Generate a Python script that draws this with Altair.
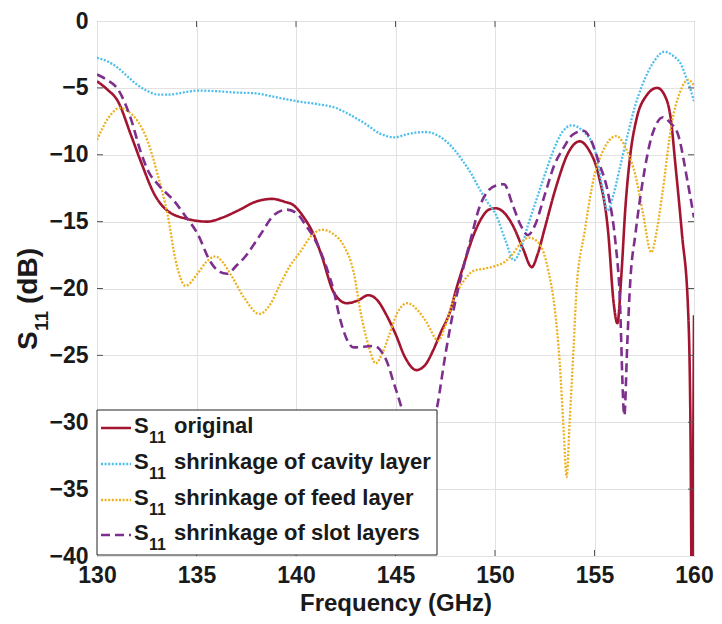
import altair as alt
import pandas as pd

# ---------------- data ----------------
freq_original = [130, 130.5, 131.05, 131.7, 132.2, 132.9, 133.55, 134.55, 135.55, 136.3, 137.05, 138.0,
                 138.8, 139.4, 139.9, 140.4, 140.9, 141.3, 141.9, 142.55, 143.1, 143.65, 144.1, 144.55,
                 145.0, 145.5, 146.05, 146.5, 146.9, 147.3, 147.7, 148.1, 148.5, 148.9, 149.3, 149.7,
                 150.05, 150.5, 150.9, 151.4, 151.85, 152.15, 152.5, 153.05, 153.7, 154.25, 154.7, 155.2,
                 155.7, 155.95, 156.15, 156.35, 156.55, 156.8, 157.1, 157.6, 158.15, 158.6, 158.85, 159.05,
                 159.4, 159.7, 159.82, 159.9, 159.97, 160]
s11_original = [-4.5, -5.1, -6.0, -8.5, -10.5, -13.0, -14.2, -14.8, -15.0, -14.7, -14.2, -13.5,
                -13.3, -13.5, -13.8, -14.7, -16.0, -17.6, -20.3, -21.1, -20.9, -20.5, -20.9, -22.0,
                -23.4, -25.2, -26.1, -25.7, -24.6, -23.2, -21.9, -19.8, -17.9, -16.1, -14.8, -14.1,
                -14.0, -14.4, -15.3, -17.0, -18.4, -17.4, -15.5, -12.5, -9.8, -9.0, -9.6, -11.5,
                -16.0, -20.9, -22.6, -19.0, -14.0, -10.0, -7.4, -5.6, -5.0, -5.8, -7.5, -10.5,
                -16.0, -21.5, -30.0, -45.0, -30.0, -22.0]

freq_cavity = [130, 130.5, 131.05, 131.5, 132.05, 132.5, 133.05, 133.6, 134.3, 135.05, 136.0, 137.0,
               137.9, 139.0, 140.05, 141.0, 142.0, 142.7, 143.4, 144.2, 144.95, 145.5, 146.0, 146.55,
               147.05, 147.55, 148.0, 148.4, 148.8, 149.2, 149.6, 150.05, 150.55, 150.95, 151.3, 151.65,
               152.05, 152.5, 152.9, 153.3, 153.85, 154.4, 155.05, 155.4, 155.65, 155.95, 156.3, 156.7,
               157.05, 157.4, 158.0, 158.5, 158.95, 159.4, 159.55, 159.8, 160]
s11_cavity = [-2.75, -3.0, -3.5, -4.1, -4.8, -5.2, -5.5, -5.5, -5.35, -5.2, -5.25, -5.35,
              -5.4, -5.7, -6.0, -6.2, -6.5, -7.0, -7.6, -8.4, -8.7, -8.5, -8.35, -8.3,
              -8.5, -9.0, -9.7, -10.5, -11.4, -12.5, -13.5, -14.5, -16.5, -17.9, -17.0, -15.3,
              -13.5, -11.5, -9.8, -8.5, -7.8, -8.2, -9.8, -12.5, -14.2, -13.0, -10.8, -8.3,
              -6.3, -4.8, -3.0, -2.3, -2.6, -3.4, -4.0, -5.0, -6.0]

freq_feed = [130, 130.55, 131.15, 131.6, 132.05, 132.55, 133.05, 133.55, 133.95, 134.45, 135.05, 135.5,
             135.95, 136.3, 136.7, 137.4, 138.15, 138.7, 139.2, 139.7, 140.2, 140.75, 141.3, 141.85,
             142.4, 142.9, 143.25, 143.65, 144.0, 144.35, 144.7, 145.1, 145.6, 146.1, 146.55, 147.15,
             147.5, 147.9, 148.4, 148.9, 149.5, 150.05, 150.5, 150.9, 151.3, 151.7, 152.2, 152.7,
             153.0, 153.25, 153.45, 153.6, 153.75, 153.95, 154.1, 154.5, 155.0, 155.4, 155.75, 156.1,
             156.6, 157.05, 157.45, 157.85, 158.15, 158.4, 158.9, 159.3, 159.7, 160]
s11_feed = [-8.9, -7.3, -6.5, -6.8, -7.5, -9.0, -11.5, -14.5, -17.9, -19.8, -18.9, -18.0,
            -17.6, -18.0, -18.9, -20.7, -21.9, -21.2, -19.7, -18.3, -17.3, -16.1, -15.6, -15.9,
            -16.8, -18.8, -21.8, -24.3, -25.6, -24.8, -23.4, -21.8, -21.1, -21.6, -22.5, -23.9,
            -22.8, -20.9, -19.5, -18.7, -18.5, -18.3, -18.0, -17.4, -16.6, -16.2, -16.6, -18.8,
            -21.5, -25.5, -30.6, -34.1, -30.0, -24.4, -20.0, -15.8, -11.5, -9.8, -8.9, -8.6,
            -9.6, -11.5, -14.5, -17.3, -15.5, -13.0, -7.5, -5.3, -4.4, -4.8]

freq_slot = [130, 130.5, 131.05, 131.7, 132.2, 132.6, 133.05, 133.9, 134.4, 135.05, 135.7, 136.1,
             136.55, 137.0, 137.4, 138.2, 138.9, 139.55, 140.05, 140.5, 140.9, 141.55, 141.9, 142.2,
             142.9, 143.9, 144.55, 144.9, 145.2, 145.5, 145.8, 146.3, 146.7, 147.1, 147.5, 148.0,
             148.4, 148.8, 149.2, 149.6, 150.05, 150.45, 150.9, 151.3, 151.65, 152.0, 152.5, 153.0,
             153.4, 153.9, 154.45, 154.85, 155.2, 155.7, 156.05, 156.25, 156.5, 156.65, 156.8, 157.05,
             157.4, 157.9, 158.45, 158.8, 159.2, 159.7, 160]
s11_slot = [-4.0, -4.4, -5.1, -7.3, -9.8, -11.3, -12.2, -13.5, -14.5, -15.9, -18.0, -18.7,
            -18.9, -18.3, -17.7, -16.0, -14.5, -14.1, -14.4, -15.3, -16.2, -18.5, -20.2, -22.2,
            -24.4, -24.3, -25.4, -27.0, -28.4, -30.0, -32.0, -33.5, -31.5, -28.8, -25.0, -21.0,
            -18.5, -16.2, -14.0, -12.8, -12.3, -12.2, -13.8, -15.3, -16.0, -15.3, -13.0, -10.7,
            -9.6, -8.5, -8.2, -9.0, -10.5, -13.0, -16.5, -20.0, -29.5, -24.0, -19.4, -16.0,
            -12.2, -8.5, -7.2, -7.6, -8.5, -12.2, -14.7]

series_keys = ["original", "cavity", "feed", "slot"]
legend_labels = ["original", "shrinkage of cavity layer", "shrinkage of feed layer", "shrinkage of slot layers"]
series_freq = [freq_original, freq_cavity, freq_feed, freq_slot]
series_s11 = [s11_original, s11_cavity, s11_feed, s11_slot]

x_ticks = [130, 135, 140, 145, 150, 155, 160]
y_ticks = [0, -5, -10, -15, -20, -25, -30, -35, -40]

# ---------------- styles ----------------
colors = ["#A2142F", "#4DBEEE", "#EDB120", "#7E2F8E"]
dashes = [[1, 0], [2, 1.6], [2, 1.6], [9, 5]]
widths = [2.6, 2.3, 2.3, 2.6]
FONT = "Liberation Sans"
TXT = "#1a1a1a"

PAD_L, PAD_T, PAD_R, PAD_B = 89, 13, 20, 60
W, H = 597, 535
TOP = 8 + PAD_T   # page y of plot top edge
LEFT = 8 + PAD_L  # page x of plot left edge

X = alt.X("f:Q", scale=alt.Scale(domain=[130, 160], nice=False, zero=False),
          axis=alt.Axis(values=x_ticks, title="Frequency (GHz)", grid=True, ticks=False, domain=False,
                        labelPadding=8, titleY=54, titleBaseline="alphabetic", titleFontSize=24,
                        labelFlush=False, labelOverlap=False))
Y = alt.Y("db:Q", scale=alt.Scale(domain=[-40, 0], nice=False, zero=False),
          axis=alt.Axis(values=y_ticks, title=None, grid=True, ticks=False, domain=False,
                        labelPadding=9, labelFlush=False, labelOverlap=False))

layers = []

# curves
for key, fr, sv, c, d, w in zip(series_keys, series_freq, series_s11, colors, dashes, widths):
    df = pd.DataFrame({"f": fr, "db": sv, "series": key})
    layers.append(
        alt.Chart(df).mark_line(color=c, strokeDash=d, strokeWidth=w, interpolate="monotone", clip=True)
        .encode(x=X, y=Y)
    )

# inward ticks (MATLAB style) on all four sides
xt = pd.DataFrame({"f": x_ticks[1:-1]})
yt = pd.DataFrame({"db": y_ticks[1:-1]})
tick_col = "#555555"
layers.append(alt.Chart(xt).mark_rule(color=tick_col, strokeWidth=1).encode(x=X, y=alt.value(0), y2=alt.value(6)))
layers.append(alt.Chart(xt).mark_rule(color=tick_col, strokeWidth=1).encode(x=X, y=alt.value(H - 6), y2=alt.value(H)))
layers.append(alt.Chart(yt).mark_rule(color=tick_col, strokeWidth=1).encode(y=Y, x=alt.value(0), x2=alt.value(6)))
layers.append(alt.Chart(yt).mark_rule(color=tick_col, strokeWidth=1).encode(y=Y, x=alt.value(W - 6), x2=alt.value(W)))

one = pd.DataFrame({"k": [0]})

# legend box
layers.append(
    alt.Chart(one).mark_rect(fill="white", stroke="#222222", strokeWidth=1)
    .encode(x=alt.value(0), x2=alt.value(340), y=alt.value(410 - TOP), y2=alt.value(555 - TOP))
)

row_base = [433 - TOP, 469 - TOP, 505 - TOP, 540 - TOP]
for lbl, c, d, w, yb in zip(legend_labels, colors, dashes, widths, row_base):
    layers.append(
        alt.Chart(one).mark_rule(color=c, strokeDash=d, strokeWidth=w)
        .encode(x=alt.value(4), x2=alt.value(34), y=alt.value(yb - 5))
    )
    layers.append(
        alt.Chart(one).mark_text(text="S", font=FONT, fontSize=22, fontWeight="bold", color=TXT,
                                 align="left", baseline="alphabetic")
        .encode(x=alt.value(37), y=alt.value(yb))
    )
    layers.append(
        alt.Chart(one).mark_text(text="11", font=FONT, fontSize=16, fontWeight="bold", color=TXT,
                                 align="left", baseline="alphabetic")
        .encode(x=alt.value(52), y=alt.value(yb + 10))
    )
    layers.append(
        alt.Chart(one).mark_text(text=lbl, font=FONT, fontSize=22, fontWeight="bold", color=TXT,
                                 align="left", baseline="alphabetic")
        .encode(x=alt.value(77), y=alt.value(yb))
    )

# y-axis title "S11 (dB)" with subscript, rotated
layers.append(
    alt.Chart(one).mark_text(text="S", font=FONT, fontSize=28, fontWeight="bold", color=TXT,
                             align="left", baseline="alphabetic", angle=270)
    .encode(x=alt.value(37 - LEFT), y=alt.value(350 - TOP))
)
layers.append(
    alt.Chart(one).mark_text(text="11", font=FONT, fontSize=19, fontWeight="bold", color=TXT,
                             align="left", baseline="alphabetic", angle=270)
    .encode(x=alt.value(48 - LEFT), y=alt.value(331 - TOP))
)
layers.append(
    alt.Chart(one).mark_text(text="(dB)", font=FONT, fontSize=28, fontWeight="bold", color=TXT,
                             align="left", baseline="alphabetic", angle=270)
    .encode(x=alt.value(37 - LEFT), y=alt.value(304 - TOP))
)

chart = (
    alt.layer(*layers)
    .properties(width=W, height=H, autosize=alt.AutoSizeParams(type="none"),
                padding={"left": PAD_L, "top": PAD_T, "right": PAD_R, "bottom": PAD_B})
    .configure_view(stroke="#5a5a5a", strokeWidth=1)
    .configure_axis(labelFont=FONT, labelFontSize=23, labelFontWeight="bold", labelColor=TXT,
                    titleFont=FONT, titleFontSize=24, titleFontWeight="bold", titleColor=TXT,
                    gridColor="#e2e2e2", gridWidth=1)
)

chart.save("out.html", embed_options={"renderer": "svg", "actions": False})
